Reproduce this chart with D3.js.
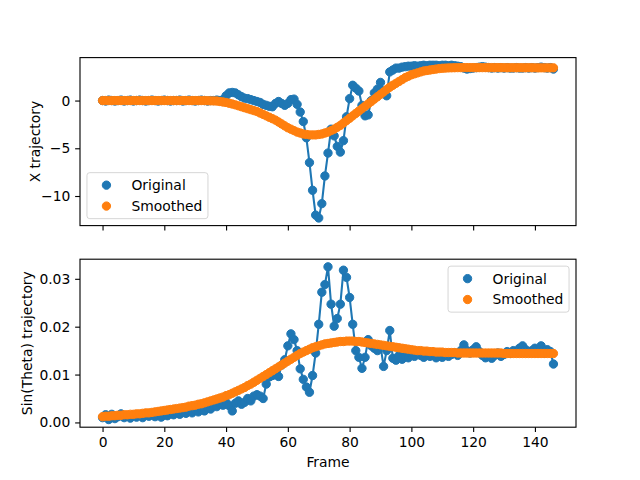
<!DOCTYPE html>
<html><head><meta charset="utf-8">
<script src="https://cdn.jsdelivr.net/npm/d3@7"></script>
<style>body{margin:0;background:#fff}svg{display:block}text{font-family:"DejaVu Sans",sans-serif}</style>
</head><body><svg id="c" width="640" height="480"></svg>
<script>
const frames = d3.range(147);
const xOriginal = [
 0.0,-0.05,0.05,0.0,-0.05,0.0,0.05,-0.05,0.0,0.05,
 -0.05,0.0,0.05,0.0,-0.05,0.0,0.05,0.0,-0.05,0.0,
 0.05,0.0,-0.05,0.0,0.0,0.05,-0.05,0.0,0.05,0.0,
 -0.05,0.0,0.05,0.0,-0.05,0.0,0.0,0.05,0.0,0.1,
 0.5,0.8,0.85,0.8,0.6,0.4,0.25,0.2,0.1,0.0,
 -0.1,-0.2,-0.4,-0.5,-0.6,-0.65,-0.3,-0.1,-0.3,-0.5,
 -0.3,0.1,0.15,-0.4,-1.2,-2.2,-3.9,-6.5,-9.4,-12.0,
 -12.3,-10.8,-7.9,-5.5,-3.0,-3.7,-4.8,-5.4,-4.2,-1.7,
 0.2,1.6,1.3,1.0,-0.5,-1.6,-1.5,0.0,0.8,1.2,
 1.9,1.0,0.5,3.0,3.2,3.4,3.4,3.5,3.55,3.6,
 3.6,3.65,3.6,3.65,3.7,3.65,3.7,3.7,3.7,3.65,
 3.7,3.7,3.65,3.7,3.65,3.6,3.55,3.4,3.3,3.35,
 3.4,3.45,3.5,3.55,3.5,3.45,3.4,3.45,3.4,3.45,
 3.4,3.45,3.4,3.4,3.45,3.4,3.4,3.45,3.4,3.45,
 3.4,3.45,3.5,3.45,3.4,3.45,3.3];
const xSmoothed = [
 0,0,0,0,0,0,0,0,0,0,
 0,0,0,0,0,0,0,0,0,0,
 0,0,0,0,0,0,0,0,0,0,
 0,0,0,0,-0.02,-0.03,-0.04,-0.05,-0.1,-0.15,
 -0.2,-0.28,-0.36,-0.45,-0.55,-0.65,-0.75,-0.85,-0.95,-1.05,
 -1.15,-1.3,-1.45,-1.6,-1.75,-1.9,-2.05,-2.25,-2.45,-2.65,
 -2.85,-3.0,-3.15,-3.3,-3.4,-3.5,-3.55,-3.6,-3.6,-3.6,
 -3.55,-3.5,-3.4,-3.3,-3.15,-3.0,-2.8,-2.6,-2.35,-2.1,
 -1.85,-1.6,-1.35,-1.1,-0.85,-0.6,-0.35,-0.1,0.15,0.4,
 0.65,0.9,1.15,1.4,1.6,1.8,2.0,2.2,2.4,2.55,
 2.7,2.8,2.9,3.0,3.1,3.15,3.2,3.25,3.3,3.35,
 3.38,3.4,3.42,3.43,3.44,3.45,3.45,3.45,3.45,3.45,
 3.45,3.45,3.45,3.45,3.45,3.45,3.45,3.45,3.45,3.45,
 3.44,3.44,3.44,3.44,3.44,3.44,3.44,3.44,3.44,3.44,
 3.43,3.43,3.43,3.43,3.43,3.43,3.43];
const sinOriginal = [
 0.0010,0.0016,0.0006,0.0017,0.0008,0.0012,0.0018,0.0010,0.0014,0.0009,
 0.0015,0.0011,0.0016,0.0010,0.0017,0.0013,0.0018,0.0012,0.0016,0.0011,
 0.0018,0.0014,0.0020,0.0016,0.0021,0.0017,0.0023,0.0019,0.0025,0.0020,
 0.0026,0.0022,0.0028,0.0024,0.0031,0.0028,0.0035,0.0033,0.0040,0.0036,
 0.0042,0.0035,0.0024,0.0040,0.0045,0.0038,0.0042,0.0050,0.0045,0.0055,
 0.0058,0.0055,0.0050,0.0080,0.0095,0.0098,0.0100,0.0096,0.0120,0.0131,
 0.0160,0.0185,0.0173,0.0150,0.0112,0.0090,0.0074,0.0063,0.0098,0.0145,
 0.0205,0.0272,0.0288,0.0325,0.0247,0.0201,0.0217,0.0247,0.0318,0.0303,
 0.0261,0.0205,0.0150,0.0136,0.0113,0.0136,0.0173,0.0160,0.0155,0.0150,
 0.0160,0.0117,0.0150,0.0192,0.0134,0.0130,0.0140,0.0132,0.0138,0.0135,
 0.0142,0.0138,0.0145,0.0140,0.0136,0.0142,0.0138,0.0140,0.0135,0.0138,
 0.0136,0.0140,0.0138,0.0142,0.0145,0.0140,0.0150,0.0162,0.0150,0.0145,
 0.0152,0.0158,0.0148,0.0140,0.0135,0.0138,0.0134,0.0140,0.0145,0.0138,
 0.0142,0.0148,0.0144,0.0150,0.0148,0.0155,0.0160,0.0152,0.0148,0.0150,
 0.0155,0.0150,0.0160,0.0145,0.0152,0.0148,0.0122];
const sinSmoothed = [
 0.0012,0.0013,0.0013,0.0014,0.0014,0.0015,0.0015,0.0016,0.0016,0.0017,
 0.0017,0.0018,0.0018,0.0019,0.0020,0.0020,0.0021,0.0022,0.0023,0.0024,
 0.0025,0.0026,0.0027,0.0028,0.0029,0.0030,0.0031,0.0032,0.0034,0.0035,
 0.0036,0.0038,0.0039,0.0041,0.0043,0.0045,0.0047,0.0049,0.0051,0.0053,
 0.0056,0.0058,0.0061,0.0064,0.0067,0.0070,0.0073,0.0077,0.0080,0.0084,
 0.0088,0.0092,0.0096,0.0100,0.0104,0.0108,0.0112,0.0116,0.0120,0.0124,
 0.0128,0.0132,0.0136,0.0140,0.0144,0.0147,0.0150,0.0153,0.0156,0.0158,
 0.0160,0.0162,0.0164,0.0165,0.0166,0.0167,0.0168,0.0169,0.0169,0.0170,
 0.0170,0.0170,0.0169,0.0169,0.0168,0.0167,0.0166,0.0165,0.0164,0.0163,
 0.0162,0.0161,0.0160,0.0159,0.0158,0.0157,0.0156,0.0155,0.0154,0.0153,
 0.0152,0.0151,0.0150,0.0150,0.0149,0.0149,0.0148,0.0148,0.0147,0.0147,
 0.0147,0.0146,0.0146,0.0146,0.0146,0.0145,0.0145,0.0145,0.0145,0.0145,
 0.0145,0.0145,0.0145,0.0145,0.0145,0.0145,0.0145,0.0145,0.0145,0.0145,
 0.0144,0.0144,0.0144,0.0144,0.0144,0.0144,0.0144,0.0144,0.0144,0.0144,
 0.0144,0.0144,0.0144,0.0144,0.0144,0.0144,0.0144];
const xTickValues = [0,20,40,60,80,100,120,140];
const topYTicks = [-10,-5,0];
const bottomYTicks = [0.00,0.01,0.02,0.03];
const seriesNames = ["Original","Smoothed"];
const seriesColors = ["#1f77b4","#ff7f0e"];
const topYLabel = "X trajectory";
const bottomYLabel = "Sin(Theta) trajectory";
const xLabel = "Frame";

const FS = 13.89, TICK = 4.86, LW = 1.11;
const svg = d3.select("#c");
const L = 80, R = 576;
function pad([a,b]){const r=b-a;return [a-0.05*r,b+0.05*r];}
const x = d3.scaleLinear().domain(pad(d3.extent(frames))).range([L,R]);

function panel(top, bottom, orig, smooth, yTicks, fmt, showX, legendPos, yLabel, yLabelX){
  const y = d3.scaleLinear().domain(pad(d3.extent(orig.concat(smooth)))).range([bottom, top]);
  const g = svg.append("g");
  // blue line
  g.append("path").datum(frames)
    .attr("d", d3.line().x(i=>x(i)).y(i=>y(orig[i])))
    .attr("fill","none").attr("stroke",seriesColors[0]).attr("stroke-width",2.08)
    .attr("stroke-linejoin","round").attr("stroke-linecap","square");
  [orig, smooth].forEach((vals,k)=>{
    g.append("g").selectAll("circle").data(frames).join("circle")
      .attr("cx", i=>x(i)).attr("cy", i=>y(vals[i])).attr("r",4.17)
      .attr("fill",seriesColors[k]).attr("stroke",seriesColors[k]).attr("stroke-width",1.0);
  });
  // axes
  const ax = g.append("g").attr("transform",`translate(0,${bottom})`)
    .call(d3.axisBottom(x).tickValues(xTickValues).tickSize(TICK).tickPadding(4.86)
      .tickFormat(showX ? d3.format("d") : ()=> ""));
  const ay = g.append("g").attr("transform",`translate(${L},0)`)
    .call(d3.axisLeft(y).tickValues(yTicks).tickSize(TICK).tickPadding(4.86).tickFormat(fmt));
  [ax,ay].forEach(a=>{
    a.select(".domain").remove();
    a.selectAll("line").attr("stroke","#000").attr("stroke-width",LW);
    a.selectAll("text").attr("fill","#000").style("font-size",FS+"px").style("font-family","DejaVu Sans");
  });
  g.append("rect").attr("x",L).attr("y",top).attr("width",R-L).attr("height",bottom-top)
    .attr("fill","none").attr("stroke","#000").attr("stroke-width",LW);
  g.append("text").attr("transform",`translate(${yLabelX},${(top+bottom)/2}) rotate(-90)`)
    .attr("text-anchor","middle").attr("dy","0.35em").style("font-size",FS+"px").text(yLabel);
  // legend
  const lw = 121, lh = 46;
  const lx = legendPos==="ll" ? L+6.94 : R-6.94-lw;
  const ly = legendPos==="ll" ? bottom-6.94-lh : top+6.94;
  const lg = g.append("g");
  lg.append("rect").attr("x",lx).attr("y",ly).attr("width",lw).attr("height",lh).attr("rx",2.8)
    .attr("fill","#fff").attr("fill-opacity",0.8).attr("stroke","#ccc").attr("stroke-opacity",0.8).attr("stroke-width",1);
  seriesNames.forEach((n,k)=>{
    const cy = ly + 12.5 + k*20.9;
    lg.append("circle").attr("cx",lx+19.5).attr("cy",cy).attr("r",4.17)
      .attr("fill",seriesColors[k]).attr("stroke",seriesColors[k]).attr("stroke-width",1);
    lg.append("text").attr("x",lx+44.5).attr("y",cy).attr("dy","0.35em").style("font-size",FS+"px").text(n);
  });
}
panel(57.6, 225.6, xOriginal, xSmoothed, topYTicks, d3.format("d"), false, "ll", topYLabel, 35);
panel(259.2, 427.2, sinOriginal, sinSmoothed, bottomYTicks, d3.format(".2f"), true, "ur", bottomYLabel, 27);
svg.append("text").attr("x",(L+R)/2).attr("y",462).attr("dy","0.35em").attr("text-anchor","middle")
  .style("font-size",FS+"px").text(xLabel);
</script></body></html>
